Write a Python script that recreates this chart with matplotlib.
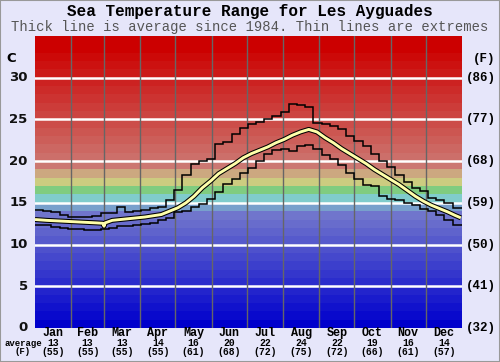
import numpy as np
import matplotlib
matplotlib.use("Agg")
import matplotlib.pyplot as plt
from matplotlib.patches import Rectangle

# --- data ---
months = ["Jan", "Feb", "Mar", "Apr", "May", "Jun", "Jul", "Aug", "Sep", "Oct", "Nov", "Dec"]
month_avg_c = [13, 13, 13, 14, 16, 20, 22, 24, 22, 19, 16, 14]
month_avg_f = [55, 55, 55, 55, 61, 68, 72, 75, 72, 66, 61, 57]
month_days = [31, 28, 31, 30, 31, 30, 31, 31, 30, 31, 30, 31]

# weekly extremes (52 weeks)
week_max = [14.2, 14.0, 13.9, 13.6, 13.35, 13.35, 13.35, 13.4, 13.75, 13.75,
            14.5, 13.95, 14.0, 14.1, 14.4, 14.5, 15.3, 16.5, 18.3, 19.6,
            20.0, 20.3, 22.0, 22.3, 23.3, 24.0, 24.5, 24.7, 25.0, 25.4,
            25.9, 26.8, 26.7, 26.5, 24.6, 24.5, 24.2, 23.8, 23.0, 22.4,
            21.8, 20.8, 20.0, 19.3, 18.3, 17.5, 16.8, 16.4, 15.6, 15.3,
            15.0, 14.4]
week_min = [12.4, 12.3, 12.1, 12.0, 11.9, 11.9, 11.8, 11.8, 11.9, 12.0,
            12.2, 12.2, 12.4, 12.5, 12.6, 12.9, 13.2, 13.9, 14.0, 14.5,
            14.9, 15.5, 16.3, 17.3, 17.8, 18.6, 19.2, 20.0, 20.9, 21.3,
            21.5, 21.2, 21.8, 21.9, 21.4, 20.7, 20.2, 19.5, 18.6, 17.9,
            17.1, 17.0, 15.8, 15.4, 15.3, 15.0, 14.8, 14.3, 14.0, 13.5,
            12.9, 12.4]

# average line (day of year, deg C)
avg_days = [0, 10, 24, 38, 52, 58, 59, 60, 66, 80, 94, 108, 115, 122, 129, 136,
            143, 150, 157, 164, 171, 178, 185, 192, 199, 206, 213, 220, 227,
            234, 241, 248, 255, 262, 269, 276, 283, 290, 297, 304, 311, 318,
            325, 332, 339, 346, 353, 359, 364]
avg_vals = [13.0, 12.9, 12.8, 12.7, 12.6, 12.55, 12.2, 12.6, 12.9, 13.1, 13.3,
            13.6, 14.0, 14.4, 15.0, 15.8, 16.8, 17.6, 18.5, 19.1, 19.7, 20.4,
            20.9, 21.3, 21.7, 22.2, 22.6, 23.1, 23.5, 23.8, 23.5, 22.8, 22.2,
            21.5, 20.9, 20.3, 19.7, 19.0, 18.4, 17.8, 17.2, 16.5, 15.8, 15.2,
            14.7, 14.3, 13.9, 13.5, 13.2]

# --- figure ---
bg = "#e6e6fa"
fig = plt.figure(figsize=(5.0, 3.62), dpi=100, facecolor=bg)
ax = fig.add_axes([0.07, 0.094, 0.854, 0.8066])
ax.set_xlim(0, 365)
ax.set_ylim(0, 35)

# colour bands, one per degree
def band_color(i):
    if i <= 13:
        t = i / 13.0
        return (0.44 * t, 0.46 * t, 0.80)
    special = {14: "#78a0cc", 15: "#80cccc", 16: "#80cc80", 17: "#cccc80",
               18: "#cca880"}
    if i in special:
        return special[i]
    t = min((i - 19) / 14.0, 1.0)
    g = 0.47 * (1 - t)
    return (0.80, g, g * 0.95)

for i in range(35):
    ax.axhspan(i, i + 1, color=band_color(i), lw=0, zorder=0)

for v in range(5, 35, 5):
    ax.axhline(v, color="white", lw=1.8, zorder=1)
edges = np.cumsum(month_days)[:-1]
for e in edges:
    ax.axvline(e, color="#666666", lw=1.0, zorder=1)

# extremes as weekly steps
wk_edges = np.append(np.arange(52) * 7, 365)
ax.stairs(week_max, wk_edges, color="black", lw=1.1, zorder=3, baseline=None)
ax.stairs(week_min, wk_edges, color="black", lw=1.1, zorder=3, baseline=None)
ax.plot(avg_days, avg_vals, color="black", lw=3.6, zorder=4, solid_capstyle="butt")
ax.plot(avg_days, avg_vals, color="#ffffaa", lw=2.1, zorder=5, solid_capstyle="butt")

ax.set_xticks([])
ax.set_yticks([])
for s in ax.spines.values():
    s.set_visible(False)

# titles
fig.text(0.5, 0.967, "Sea Temperature Range for Les Ayguades", ha="center", va="center",
         family="Liberation Mono", weight="bold", fontsize=11.5)
fig.text(0.5, 0.925, "Thick line is average since 1984. Thin lines are extremes",
         ha="center", va="center", family="Liberation Mono", fontsize=10, color="#555555")

# left / right scales
tr_l = ax.get_yaxis_transform()
for v in range(0, 35, 5):
    ax.text(-0.017, v, str(v), transform=tr_l, ha="right", va="center",
            fontsize=9.5, family="DejaVu Sans", weight="bold", color="#111111")
    ax.text(1.008, v, "(%d)" % round(v * 9 / 5 + 32), transform=tr_l, ha="left",
            va="center", fontsize=9, family="Liberation Mono", weight="bold")
ax.text(-0.045, 32.3, "C", transform=tr_l, ha="right", va="center", fontsize=9.5,
        family="DejaVu Sans", weight="bold")
ax.text(1.025, 32.3, "(F)", transform=tr_l, ha="left", va="center", fontsize=9,
        family="Liberation Mono", weight="bold")

# month labels
starts = np.concatenate([[0], edges])
mids = starts + np.array(month_days) / 2.0
tr_x = ax.get_xaxis_transform()
for m, c, f, x in zip(months, month_avg_c, month_avg_f, mids):
    ax.text(x, -0.017, m, transform=tr_x, ha="center", va="center", fontsize=8.5,
            family="Liberation Mono", weight="bold")
    ax.text(x, -0.051, str(c), transform=tr_x, ha="center", va="center", fontsize=7,
            family="Liberation Mono", weight="bold")
    ax.text(x, -0.082, "(%d)" % f, transform=tr_x, ha="center", va="center", fontsize=7,
            family="Liberation Mono", weight="bold")
fig.text(0.046, 1 - 343 / 362, "average", ha="center", va="center", fontsize=6.5,
         family="Liberation Mono", weight="bold")
fig.text(0.046, 1 - 352 / 362, "(F)", ha="center", va="center", fontsize=6.5,
         family="Liberation Mono", weight="bold")

fig.patches.append(Rectangle((0, 0), 1, 1, transform=fig.transFigure, fill=False,
                             edgecolor="#999999", lw=1.5))

fig.savefig("out.png", dpi=100, facecolor=bg)
